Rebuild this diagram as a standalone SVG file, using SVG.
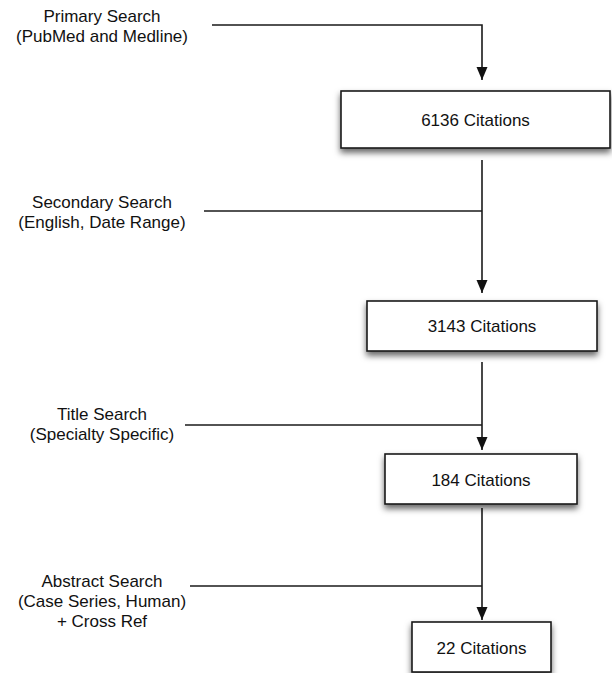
<svg xmlns="http://www.w3.org/2000/svg" width="612" height="673" viewBox="0 0 612 673">
<style>
text{font-family:"Liberation Sans",Arial,sans-serif;font-size:17px;fill:#111;text-anchor:middle}
.box{fill:#fff;stroke:#1a1a1a;stroke-width:1.6;filter:url(#sh)}
.ln{fill:none;stroke:#1a1a1a;stroke-width:1.6}
</style>
<defs>
<filter id="sh" x="-10%" y="-20%" width="120%" height="150%">
<feDropShadow dx="0" dy="4" stdDeviation="3" flood-color="#000" flood-opacity="0.6"/>
</filter>
<marker id="ah" markerUnits="userSpaceOnUse" markerWidth="14" markerHeight="12" refX="13" refY="6" orient="auto" viewBox="0 0 14 12">
<path d="M0,0.5 L13,6 L0,11.5 Z" fill="#111"/>
</marker>
</defs>
<g id="connectors">
<path class="ln" d="M212,25 H482 V80" marker-end="url(#ah)"/>
<path class="ln" d="M482,160 V293" marker-end="url(#ah)"/>
<path class="ln" d="M204,211 H482"/>
<path class="ln" d="M482,362 V450" marker-end="url(#ah)"/>
<path class="ln" d="M185,425 H482"/>
<path class="ln" d="M482,508 V620" marker-end="url(#ah)"/>
<path class="ln" d="M190,586 H482"/>
</g>
<g id="label-primary"><text x="102" y="22">Primary Search</text><text x="102" y="42">(PubMed and Medline)</text></g>
<g id="label-secondary"><text x="102" y="208">Secondary Search</text><text x="102" y="228">(English, Date Range)</text></g>
<g id="label-title"><text x="102" y="420">Title Search</text><text x="102" y="440">(Specialty Specific)</text></g>
<g id="label-abstract"><text x="102" y="587">Abstract Search</text><text x="102" y="607">(Case Series, Human)</text><text x="102" y="627">+ Cross Ref</text></g>
<g id="node-6136"><rect class="box" x="341" y="91" width="269" height="57"/><text x="475.5" y="125.5">6136 Citations</text></g>
<g id="node-3143"><rect class="box" x="367" y="301" width="230" height="50"/><text x="482" y="331.5">3143 Citations</text></g>
<g id="node-184"><rect class="box" x="385" y="454" width="192" height="50"/><text x="481" y="485.5">184 Citations</text></g>
<g id="node-22"><rect class="box" x="412" y="622" width="139" height="50"/><text x="481.5" y="654">22 Citations</text></g>
</svg>
